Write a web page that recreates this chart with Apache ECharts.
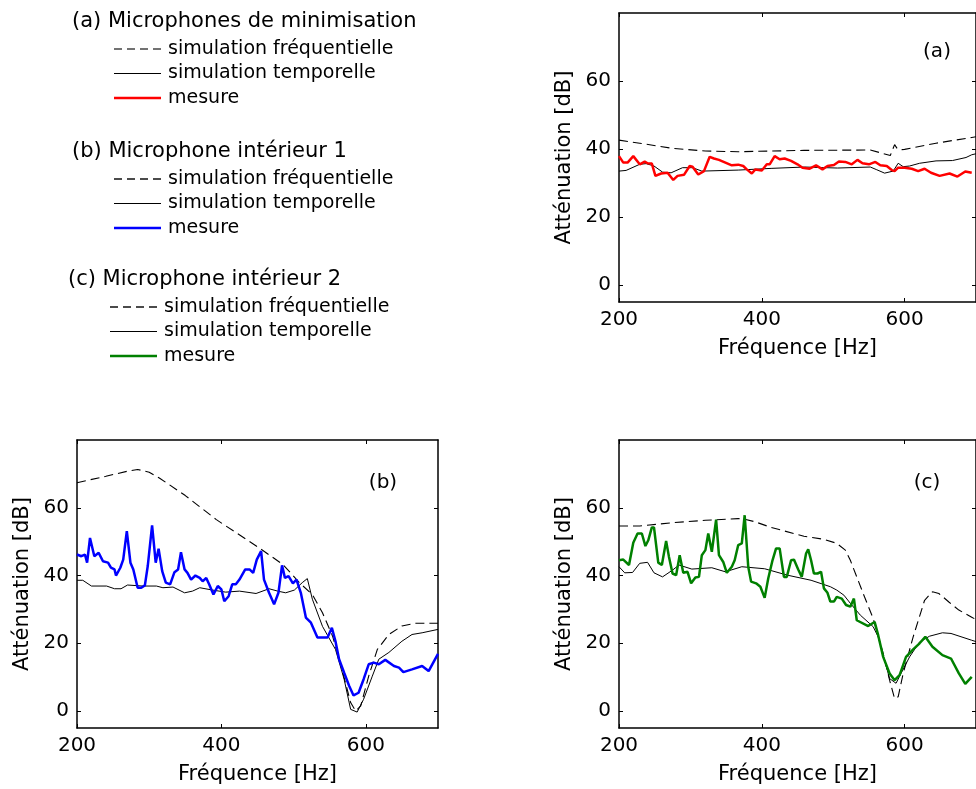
<!DOCTYPE html>
<html>
<head>
<meta charset="utf-8">
<script src="https://cdn.jsdelivr.net/npm/echarts@6.0.0/dist/echarts.min.js"></script>
<style>
  html, body { margin: 0; padding: 0; background: #fff; overflow: hidden; }
  #chart { width: 976px; height: 789px; }
</style>
</head>
<body>
<div id="chart"></div>
<script>
// ticks / ranges
const freqTicks = [200, 400, 600];
const attTicks = [0, 20, 40, 60];

// (a) Microphones de minimisation  [Hz, dB]
const aSimFreq = [[200,42.6],[229,41.7],[275,40.2],[321,39.4],[367,39.2],[459,39.6],[552,39.7],[566,38.9],[580,38.1],[586,41.3],[590,40],[595,39.8],[600,39.9],[644,41.7],[694,43.4],[700,43.6]];
const aSimTemp = [[200,33.5],[210,33.7],[229,35.5],[238,35.7],[249,35],[261,33.2],[273,33],[289,34.5],[303,34.5],[316,33.5],[367,33.8],[413,34.3],[460,34.7],[506,34.4],[552,34.7],[561,33.9],[572,32.9],[584,33.5],[591,35.8],[598,34.8],[607,35],[621,35.8],[644,36.5],[667,36.6],[686,37.5],[694,38.3],[700,38.6]];
const aMesure = [[200,37.9],[206,36],[212,36],[220,37.9],[229,35.5],[236,36.3],[240,35.8],[246,35.7],[251,32.1],[259,32.8],[268,33],[276,30.9],[282,32.1],[291,32.4],[299,35],[303,34.8],[311,32.5],[319,33.5],[327,37.7],[333,37.2],[340,36.8],[349,36],[358,35.2],[367,35.4],[374,35],[379,34],[386,32.8],[391,34],[400,33.7],[407,35.5],[411,35.5],[418,37.9],[425,37],[432,37.2],[441,36.5],[450,35.5],[457,34.5],[467,34.2],[476,35.2],[485,34],[492,35],[501,35.3],[508,36.3],[517,36.2],[526,35.5],[534,36.8],[541,35.8],[550,35.5],[559,36.2],[566,35.2],[575,35],[582,33.8],[586,33.5],[591,34.5],[600,34.5],[610,34.2],[619,33.5],[628,34.2],[637,33],[649,32.1],[663,32.8],[674,31.9],[685,33.4],[694,33]];

// (b) Microphone interieur 1
const bSimFreq = [[200,67.4],[240,69.3],[270,70.8],[284,71.3],[300,70.5],[314,68.8],[350,63.6],[393,56.5],[452,48.2],[485,43.3],[508,37.9],[526,34.4],[540,29],[554,22.1],[567,12.3],[579,2.5],[586,0],[593,1.5],[604,10.3],[616,18.2],[632,22.6],[650,25.1],[668,25.9],[700,25.9]];
const bSimTemp = [[200,38.6],[208,38.6],[220,36.9],[241,36.9],[252,36.1],[261,36.1],[270,37.2],[291,36.9],[310,36.9],[319,36.4],[333,36.6],[349,34.9],[360,35.4],[370,36.4],[388,35.7],[406,35.1],[425,35.4],[448,34.7],[466,36.1],[478,35.4],[489,34.9],[501,35.7],[512,37.9],[519,39.1],[526,33],[540,25],[558,18.2],[570,9.4],[579,0.5],[588,-0.3],[597,3.5],[609,10.3],[618,15.3],[632,17.3],[650,20.6],[664,22.6],[678,23.1],[700,24.1]];
const bMesure = [[200,46.2],[206,45.7],[211,46.2],[214,43.8],[218,51.1],[224,45.7],[230,46.7],[236,44.2],[243,43.8],[247,42.3],[252,41.8],[254,40],[260,42.3],[264,44.7],[269,53.1],[274,43.8],[278,41.8],[284,36.4],[289,36.4],[294,37.1],[298,42.8],[304,54.8],[309,43.8],[313,47.9],[318,41.3],[323,37.9],[329,37.4],[335,41],[340,41.8],[344,46.9],[349,41.8],[353,40.8],[358,38.8],[364,40],[370,39.3],[374,38.3],[379,39.3],[383,37.4],[389,34.4],[395,36.9],[400,35.9],[404,32.4],[410,33.9],[415,37.4],[420,37.4],[425,38.8],[433,41.8],[439,41.8],[444,40.8],[449,44.7],[455,47.2],[459,38.8],[466,34.9],[473,31.5],[479,34.9],[484,43],[488,39.3],[493,39.8],[499,37.7],[504,38.8],[510,34.9],[517,27.6],[524,26.1],[533,21.7],[547,21.7],[553,24.6],[558,20.6],[563,15.3],[570,11.3],[577,7.4],[583,4.6],[590,5.4],[597,9.4],[604,13.8],[611,14.3],[618,13.8],[627,15.1],[639,13.3],[646,12.8],[652,11.5],[664,12.3],[678,13.3],[687,11.8],[700,16.9]];

// (c) Microphone interieur 2
const cSimFreq = [[200,54.6],[229,54.6],[275,55.6],[321,56.3],[367,56.8],[376,56.6],[390,55.9],[413,54.2],[459,51.6],[487,50.7],[505,49.5],[517,47.5],[524,44.5],[542,34.7],[556,27.3],[570,17],[579,9.1],[586,3.7],[591,4.2],[598,11.1],[612,21.9],[628,32.7],[639,35.2],[648,34.7],[662,32.2],[676,29.8],[694,27.7],[700,27]];
const cSimTemp = [[200,42.6],[208,40.8],[219,40.9],[229,43.6],[240,43.9],[249,40.8],[261,39.6],[275,41.6],[284,43.1],[302,41.9],[330,42.3],[349,41.1],[372,42.6],[404,42],[436,40.1],[469,38.6],[496,36.7],[505,35.7],[515,34.2],[524,31.8],[538,28.3],[556,24.9],[563,21.9],[570,16.5],[579,9.6],[588,8.2],[595,11.1],[607,16],[621,20.4],[635,22.1],[653,23.1],[665,22.9],[694,20.9],[700,20.5]];
const cMesure = [[200,44.5],[206,44.7],[214,43.1],[220,49.7],[226,52.4],[232,52.4],[237,48.7],[241,50.4],[246,54.2],[249,54.2],[255,43.8],[260,43.1],[266,50.2],[270,45.5],[275,40.6],[280,40.1],[285,46],[290,40.8],[296,41.1],[301,37.7],[307,39.4],[312,39.6],[316,46],[321,47.5],[325,52.4],[330,47],[336,56.5],[340,46],[346,44],[351,40.8],[358,42.6],[362,44.5],[367,49],[372,49.5],[376,57.8],[381,42.6],[385,38.2],[392,37.7],[398,36.7],[404,33.4],[409,39.1],[415,44.5],[420,48],[425,48],[431,39.6],[435,39.6],[441,44.5],[445,44.7],[451,41.8],[456,39.6],[462,46.5],[465,47.7],[469,44.5],[473,40.6],[478,40.6],[483,41.1],[487,36.2],[492,34.9],[496,32.3],[501,32.3],[505,33.7],[512,33.2],[518,31.3],[524,30.8],[529,33.2],[533,26.8],[549,25.1],[558,26.3],[563,22.4],[570,16],[579,11.1],[586,9.1],[593,10.6],[602,16],[612,18.2],[621,20],[629,21.9],[639,19],[653,16.5],[665,15.5],[676,11.1],[685,8],[694,10.1]];

const measureColors = ['#ff0000', '#0000ff', '#008000'];
const font = 'DejaVu Sans';

const chart = echarts.init(document.getElementById('chart'));

// grids: (a) top right, (b) bottom left, (c) bottom right
const grids = [
  { left: 619, top: 13, width: 361, height: 289 },
  { left: 77, top: 440, width: 361, height: 288 },
  { left: 619, top: 440, width: 361, height: 288 }
];

const frameLine = { show: true, onZero: false, lineStyle: { color: '#000', width: 1.5 } };
const innerTick = (vals) => ({ show: true, inside: true, length: 4, customValues: vals, lineStyle: { color: '#000', width: 1 } });

let xAxes = [];
let yAxes = [];
grids.forEach((g, i) => {
  xAxes.push({
    type: 'value', gridIndex: i, position: 'bottom', min: 200, max: 700,
    name: 'Fréquence [Hz]', nameLocation: 'middle', nameGap: 36,
    nameTextStyle: { fontFamily: font, fontSize: 21, color: '#000' },
    axisLine: frameLine, axisTick: innerTick(freqTicks), splitLine: { show: false },
    axisLabel: { customValues: freqTicks, margin: 8, fontFamily: font, fontSize: 20, color: '#000' }
  });
  xAxes.push({
    type: 'value', gridIndex: i, position: 'top', min: 200, max: 700,
    axisLine: frameLine, axisTick: innerTick(freqTicks), splitLine: { show: false },
    axisLabel: { show: false }
  });
  yAxes.push({
    type: 'value', gridIndex: i, position: 'left', min: -5, max: 80,
    name: 'Atténuation [dB]', nameLocation: 'middle', nameGap: 44,
    nameTextStyle: { fontFamily: font, fontSize: 21, color: '#000' },
    axisLine: frameLine, axisTick: innerTick(attTicks), splitLine: { show: false },
    axisLabel: { customValues: attTicks, margin: 8, fontFamily: font, fontSize: 20, color: '#000' }
  });
  yAxes.push({
    type: 'value', gridIndex: i, position: 'right', min: -5, max: 80,
    axisLine: frameLine, axisTick: innerTick(attTicks), splitLine: { show: false },
    axisLabel: { show: false }
  });
});

const plotData = [
  [aSimFreq, aSimTemp, aMesure],
  [bSimFreq, bSimTemp, bMesure],
  [cSimFreq, cSimTemp, cMesure]
];

let series = [];
plotData.forEach((set, i) => {
  series.push({ type: 'line', xAxisIndex: i * 2, yAxisIndex: i * 2, data: set[0], showSymbol: false, silent: true,
    lineStyle: { color: '#000', width: 1.1, type: [9, 5] } });
  series.push({ type: 'line', xAxisIndex: i * 2, yAxisIndex: i * 2, data: set[1], showSymbol: false, silent: true,
    lineStyle: { color: '#000', width: 1 } });
  series.push({ type: 'line', xAxisIndex: i * 2, yAxisIndex: i * 2, data: set[2], showSymbol: false, silent: true,
    lineStyle: { color: measureColors[i], width: 2.5 } });
});

// legend drawn by hand like the original figure
const legendTitles = ['(a) Microphones de minimisation', '(b) Microphone intérieur 1', '(c) Microphone intérieur 2'];
const legendTop = [22, 152, 280];
const legendX = [72, 72, 68];
const dashColors = ['#444', '#111', '#111'];
const rowLabels = ['simulation fréquentielle', 'simulation temporelle', 'mesure'];
let graphics = [];
legendTitles.forEach((t, i) => {
  const y0 = legendTop[i];
  const lx = legendX[i] + 42;
  graphics.push({ type: 'text', style: { text: t, x: legendX[i], y: y0, font: '21px "DejaVu Sans"', fill: '#000',
    verticalAlign: 'middle', textVerticalAlign: 'middle' } });
  rowLabels.forEach((r, j) => {
    const ry = y0 + 27 + j * 24.5;
    graphics.push({ type: 'line', shape: { x1: lx, y1: ry, x2: lx + 47, y2: ry },
      style: j === 0 ? { stroke: dashColors[i], lineWidth: 1.3, lineDash: [8, 5] }
                     : { stroke: j === 1 ? '#000' : measureColors[i], lineWidth: j === 1 ? 1.2 : 2.5 } });
    graphics.push({ type: 'text', style: { text: r, x: lx + 54, y: ry, font: '19px "DejaVu Sans"', fill: '#000',
      verticalAlign: 'middle', textVerticalAlign: 'middle' } });
  });
});

// panel letters
[['(a)', 937, 52], ['(b)', 383, 483], ['(c)', 927, 483]].forEach((p) => {
  graphics.push({ type: 'text', style: { text: p[0], x: p[1], y: p[2], font: '20px "DejaVu Sans"', fill: '#000',
    align: 'center', textAlign: 'center', verticalAlign: 'middle', textVerticalAlign: 'middle' } });
});

chart.setOption({
  animation: false,
  backgroundColor: '#fff',
  grid: grids,
  xAxis: xAxes,
  yAxis: yAxes,
  series: series,
  graphic: graphics
});
</script>
</body>
</html>
